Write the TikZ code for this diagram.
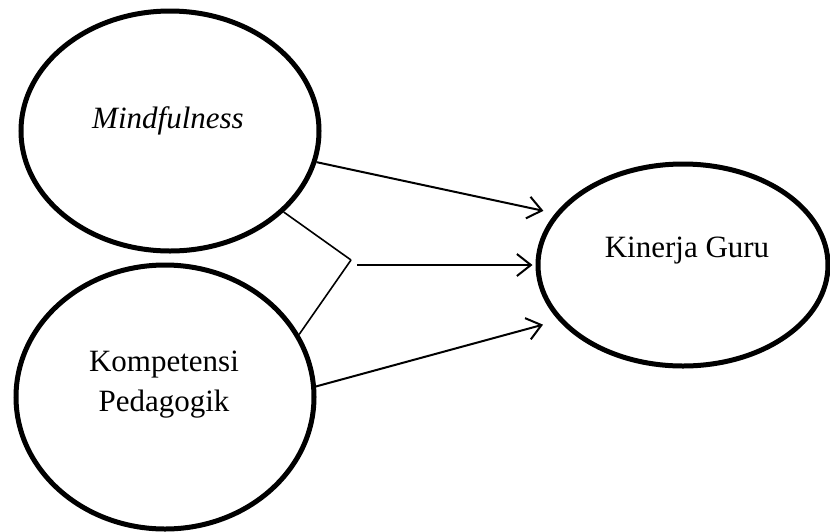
\documentclass[tikz,border=0pt]{standalone}
\usepackage{fontspec}
\setmainfont{Liberation Serif}
\usetikzlibrary{shapes.geometric,arrows.meta}
\begin{document}
\begin{tikzpicture}[x=1pt,y=-1pt,
  oval/.style={ellipse, draw, line width=5pt, inner sep=0pt},
  lbl/.style={font=\fontsize{31}{40}\selectfont, align=center},
  arr/.style={line width=2pt, -{Straight Barb[length=14pt,width=22pt,line width=2pt]}},
  link/.style={line width=1.6pt}]
\useasboundingbox (0,0) rectangle (830,531);
\node[oval, minimum width=298pt, minimum height=240pt] (mind) at (170,131) {};
\node[lbl, font=\fontsize{31}{40}\selectfont\itshape] (mindt) at (168,121) {Mindfulness};
\node[oval, minimum width=298pt, minimum height=264pt] (komp) at (165,397) {};
\node[lbl] (kompt) at (164,385) {Kompetensi\\Pedagogik};
\node[oval, minimum width=290pt, minimum height=202pt] (guru) at (683,265) {};
\node[lbl] (gurut) at (687,251) {Kinerja Guru};
\coordinate (apex) at (351,260);
\coordinate (mid) at (357,265);
\draw[link] (mind) -- (apex);
\draw[link] (apex) -- (komp.25.5);
\draw[arr, shorten >=12pt] (mind.-12.7) -- (guru.158.2);
\draw[arr, shorten >=3pt] (mid) -- (guru.west);
\draw[arr, shorten >=16pt] (komp.4) -- (guru.-156.3);
\end{tikzpicture}
\end{document}
